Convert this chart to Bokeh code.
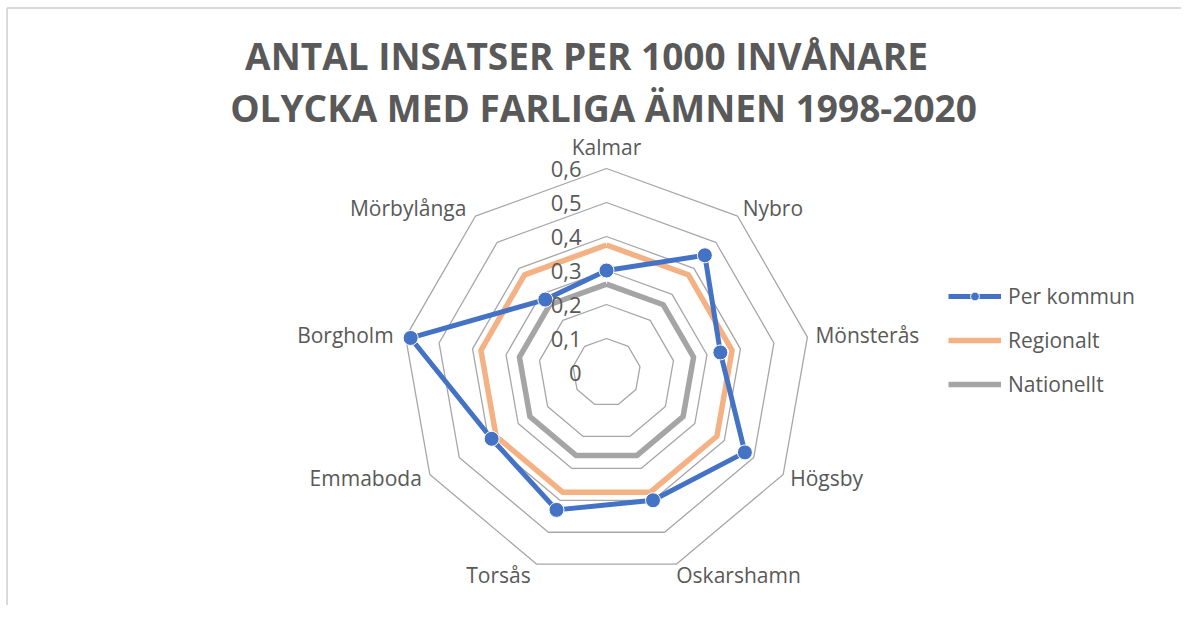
import math
from bokeh.plotting import figure
from bokeh.models import Range1d, Label, Legend, LegendItem, ColumnDataSource
from bokeh.core.properties import value
from bokeh.embed import file_html
from bokeh.resources import INLINE

# ---------------- data ----------------
categories = ["Kalmar", "Nybro", "Mönsterås", "Högsby", "Oskarshamn",
              "Torsås", "Emmaboda", "Borgholm", "Mörbylånga"]
per_kommun = [0.30, 0.45, 0.34, 0.47, 0.40, 0.43, 0.39, 0.585, 0.28]
regionalt = [0.375, 0.375, 0.375, 0.375, 0.375, 0.375, 0.375, 0.375, 0.375]
nationellt = [0.26, 0.26, 0.26, 0.26, 0.26, 0.26, 0.26, 0.26, 0.26]
tick_values = [0.0, 0.1, 0.2, 0.3, 0.4, 0.5, 0.6]
tick_labels = ["0", "0,1", "0,2", "0,3", "0,4", "0,5", "0,6"]
title_lines = ["ANTAL INSATSER PER 1000 INVÅNARE", "OLYCKA MED FARLIGA ÄMNEN 1998-2020"]
series_names = ["Per kommun", "Regionalt", "Nationellt"]

# ---------------- layout / style ----------------
W, H = 1181, 605
PX = 340.0            # pixels per unit
CX, CY = 606, 372     # centre of radar, px from top-left of figure
FONT = "Open Sans"
TXT = "#595959"
GRID = "#a6a6a6"
BLUE = "#4472c4"
ORANGE = "#f4b183"
GREY = "#a5a5a5"

n = len(categories)
angles = [2 * math.pi * i / n for i in range(n)]


def polar(vals, close=True):
    xs = [v * math.sin(a) for v, a in zip(vals, angles)]
    ys = [v * math.cos(a) for v, a in zip(vals, angles)]
    if close:
        xs.append(xs[0])
        ys.append(ys[0])
    return xs, ys


p = figure(width=W, height=H, output_backend="svg", toolbar_location=None,
           x_range=Range1d(-CX / PX, (W - CX) / PX),
           y_range=Range1d(-(H - CY) / PX, CY / PX),
           min_border=0)
p.axis.visible = False
p.grid.visible = False
p.outline_line_color = None
p.background_fill_color = "white"

# chart border (top and left visible in reference)
x0, x1 = p.x_range.start, p.x_range.end
y0, y1 = p.y_range.start, p.y_range.end
bx0 = x0 + 6.5 / PX
by1 = y1 - 7.5 / PX
p.segment(x0=[bx0, bx0], y0=[by1, by1], x1=[bx0, x1], y1=[y0, by1],
          line_color="#d9d9d9", line_width=2)

# grid rings
for t in tick_values[1:]:
    gx, gy = polar([t] * n)
    p.line(gx, gy, line_color=GRID, line_width=1.3)

# series
ox, oy = polar(regionalt)
r_or = p.line(ox, oy, line_color=ORANGE, line_width=5.5, line_join="round")
gx, gy = polar(nationellt)
r_gr = p.line(gx, gy, line_color=GREY, line_width=5.5, line_join="round")
bx, by = polar(per_kommun)
r_bl = p.line(bx, by, line_color=BLUE, line_width=5, line_join="round")
r_bm = p.scatter(bx[:-1], by[:-1], size=15, fill_color=BLUE,
                 line_color="white", line_width=1)

# tick labels along vertical axis
p.text(x=[0] * len(tick_values), y=tick_values, text=tick_labels,
       text_font=value(FONT), text_font_size="22px", text_color=TXT,
       text_align="right", text_baseline="middle", x_offset=-25)

# category labels
lx, ly = polar([0.6] * n, close=False)
aligns = []
for a in angles:
    s = math.sin(a)
    aligns.append("left" if s > 0.1 else ("right" if s < -0.1 else "center"))
x_offs = [0, 5, 8, 7, 0, -6, -8, -12, -9]
y_offs = [-22, -8, -2, 3, 11, 11, 3, -2, -8]
src = ColumnDataSource(dict(x=lx, y=ly, text=categories, align=aligns,
                            xo=x_offs, yo=y_offs))
p.text(x="x", y="y", text="text", source=src, text_align="align",
       x_offset="xo", y_offset="yo", text_baseline="middle",
       text_font=value(FONT), text_font_size="21px", text_color=TXT)

# title
p.add_layout(Label(x=586, y=H - 55, x_units="screen", y_units="screen",
                   text=title_lines[0], text_align="center", text_baseline="middle",
                   text_font=FONT, text_font_size="37px", text_font_style="bold",
                   text_color=TXT))
p.add_layout(Label(x=603, y=H - 107, x_units="screen", y_units="screen",
                   text=title_lines[1], text_align="center", text_baseline="middle",
                   text_font=FONT, text_font_size="37px", text_font_style="bold",
                   text_color=TXT))

# legend
legend = Legend(items=[LegendItem(label=series_names[0], renderers=[r_bl, r_bm]),
                       LegendItem(label=series_names[1], renderers=[r_or]),
                       LegendItem(label=series_names[2], renderers=[r_gr])],
                location=(948, 207), border_line_color=None,
                background_fill_alpha=0,
                label_text_font=FONT, label_text_font_size="21px",
                label_text_color=TXT, glyph_width=53, glyph_height=22,
                label_standoff=7, spacing=16, padding=0, margin=0)
p.add_layout(legend)

open("out.html", "w").write(file_html(p, INLINE))
